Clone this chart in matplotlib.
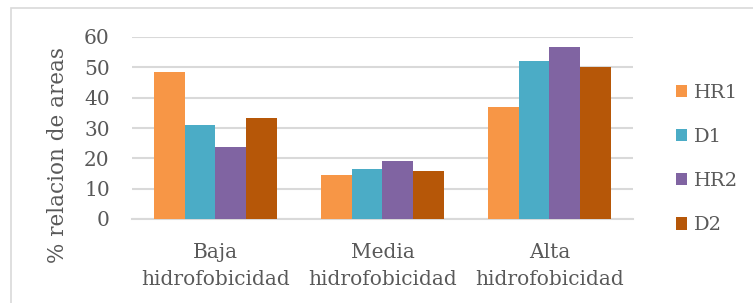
import numpy as np
import matplotlib.pyplot as plt
from matplotlib.patches import Rectangle

categories = ['Baja\nhidrofobicidad', 'Media\nhidrofobicidad', 'Alta\nhidrofobicidad']
series_names = ['HR1', 'D1', 'HR2', 'D2']
hr1 = [48.3, 14.5, 36.9]
d1 = [31.0, 16.5, 52.1]
hr2 = [23.9, 19.1, 56.7]
d2 = [33.3, 15.9, 50.2]
colors = ['#F79646', '#4BACC6', '#8064A2', '#B65708']

plt.rcParams['font.family'] = 'DejaVu Serif'

fig = plt.figure(figsize=(7.53, 3.03), dpi=100)
# outer chart frame
fig.patches.append(Rectangle((11 / 753, -0.1), 1.0, 1 - 8 / 303 + 0.1, transform=fig.transFigure,
                             fill=False, edgecolor='#D9D9D9', linewidth=1.2))

ax = fig.add_axes([132 / 753, 1 - 219 / 303, (633 - 132) / 753, (219 - 37) / 303])

x = np.arange(len(categories))
w = 0.183
for i, (name, vals) in enumerate(zip(series_names, [hr1, d1, hr2, d2])):
    ax.bar(x + (i - 1.5) * w, vals, w, color=colors[i], label=name, zorder=3)

ax.set_xlim(-0.5, 2.5)
ax.set_ylim(0, 60)
ax.set_yticks(range(0, 61, 10))
ax.yaxis.grid(True, color='#D9D9D9', linewidth=1.5, zorder=0)
for s in ['top', 'right', 'left']:
    ax.spines[s].set_visible(False)
ax.spines['bottom'].set_color('#D9D9D9')
ax.spines['bottom'].set_linewidth(1.5)
ax.tick_params(length=0, labelsize=14.5, colors='#595959')
ax.tick_params(axis='y', pad=16)
ax.tick_params(axis='x', pad=17, labelsize=14.5)
ax.set_xticks(x)
ax.set_xticklabels(categories, linespacing=1.55)
ax.set_ylabel('% relacion de areas', fontsize=15.5, color='#595959')
ax.yaxis.set_label_coords(-63 / 501, 0.35)

fig.legend(loc='center left', bbox_to_anchor=(668 / 753, 1 - 159 / 303), frameon=False,
           fontsize=14, labelcolor='#595959', handlelength=0.6, handleheight=0.6,
           handletextpad=0.35, labelspacing=1.35, borderaxespad=0)

fig.savefig('out.png', dpi=100)
